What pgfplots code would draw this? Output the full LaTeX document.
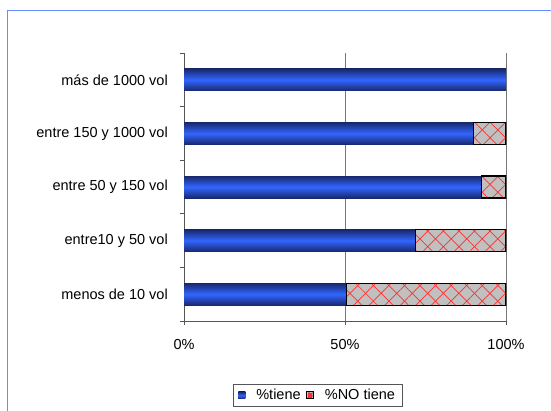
\documentclass[border=0pt]{standalone}
\usepackage{pgfplots}
\pgfplotsset{compat=1.18}
\usepackage{fontspec}
\setmainfont{Liberation Sans}
\usetikzlibrary{patterns.meta}

\definecolor{barblue}{HTML}{3366FF}
\definecolor{bardark}{HTML}{17286E}
\definecolor{hatchgray}{HTML}{C0C0C0}
\definecolor{frameblue}{HTML}{6A8CFF}
\definecolor{axisgray}{HTML}{555555}
\definecolor{hatchred}{HTML}{FF3030}

\pgfplotsset{
  common/.style={
    at={(184pt,89pt)}, anchor=south west,
    scale only axis, width=322pt, height=268pt,
    xmin=0, xmax=100, ymin=0.5, ymax=5.5,
  },
  bluebar/.style={xbar, bar shift=0pt, bar width=22pt, draw=none,
    top color=bardark, bottom color=bardark, middle color=barblue},
  nostyle/.style={
    fill=hatchgray, draw=black, line width=1.3pt,
    postaction={pattern={Lines[angle=45,distance=11pt,line width=0.7pt]}, pattern color=hatchred},
    postaction={pattern={Lines[angle=-45,distance=11pt,line width=0.7pt]}, pattern color=hatchred},
  },
}

\begin{document}
\begin{tikzpicture}
\path[use as bounding box] (0pt,0pt) rectangle (551pt,410pt);
\draw[frameblue, line width=1.5pt] (7.5pt,-5pt) -- (7.5pt,399.5pt) -- (560pt,399.5pt);
% axis with frame, ticks, grid and the shaded "%tiene" bars
\begin{axis}[
  common,
  axis x line*=bottom, axis y line*=left,
  axis line style={axisgray, line width=0.9pt},
  xtick={0,50,100}, xticklabels={0\%,50\%,100\%},
  ytick={1,2,3,4,5},
  yticklabels={menos de 10 vol, entre10 y 50 vol, entre 50 y 150 vol, entre 150 y 1000 vol, más de 1000 vol},
  minor ytick={0.5,1.5,2.5,3.5,4.5,5.5},
  major y tick style={draw=none},
  tick align=outside, major tick length=4pt, minor tick length=4pt,
  tick style={axisgray, line width=0.9pt},
  xmajorgrids, major grid style={axisgray!80, line width=0.8pt},
  tick label style={font=\fontsize{14.5}{16}\selectfont, text=black},
  yticklabel style={inner sep=0pt, xshift=-12pt},
  xticklabel style={inner sep=0pt, yshift=-14pt},
]
\addplot[bluebar] coordinates {(50.5,1)};
\addplot[bluebar] coordinates {(72,2)};
\addplot[bluebar] coordinates {(92.4,3)};
\addplot[bluebar] coordinates {(89.8,4)};
\addplot[bluebar] coordinates {(100,5)};
\end{axis}
% overlay axis: "%NO tiene" stacked on "%tiene", plus legend
\begin{axis}[
  common, hide axis,
  xbar stacked, bar width=22pt,
  legend style={at={(axis description cs:0.152,-0.235)}, anchor=north west,
    legend columns=2, draw=axisgray, line width=0.8pt,
    font=\fontsize{14.5}{16}\selectfont, inner xsep=5pt, inner ysep=3pt,
    /tikz/every even column/.append style={column sep=3pt},
    /tikz/every odd column/.append style={column sep=9pt}},
]
\addplot[draw=none, fill=none,
  legend image code/.code={\fill[top color=bardark, bottom color=bardark, middle color=barblue] (0pt,-3.5pt) rectangle (7pt,3.5pt);}]
  coordinates {(50.5,1) (72,2) (92.4,3) (89.8,4) (100,5)};
\addlegendentry{\%tiene}
\addplot[nostyle,
  legend image code/.code={\draw[fill=hatchgray, draw=black, line width=1.2pt] (0pt,-3.5pt) rectangle (7pt,3.5pt); \fill[hatchred] (2pt,-1.5pt) rectangle (5pt,1.5pt);}]
  coordinates {(49.5,1) (28,2) (7.6,3) (10.2,4)};
\addlegendentry{\%NO tiene}
\end{axis}
\end{tikzpicture}
\end{document}
